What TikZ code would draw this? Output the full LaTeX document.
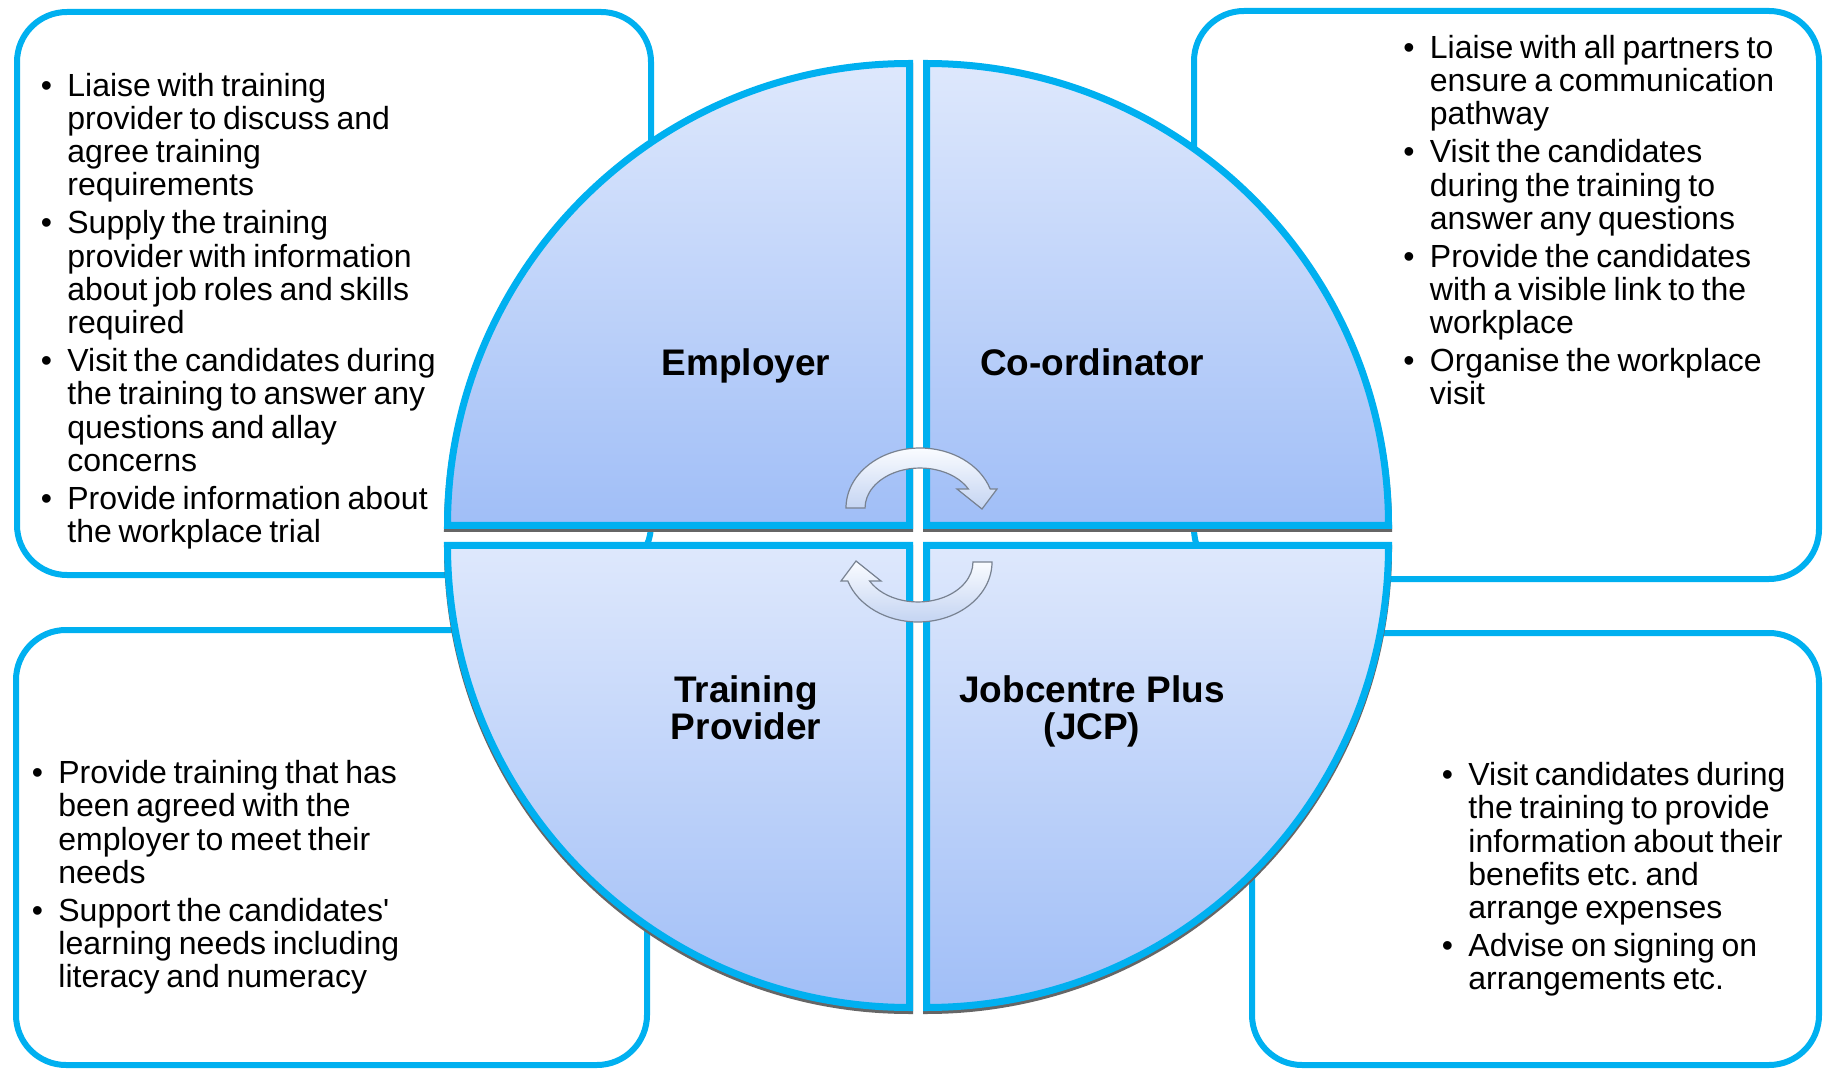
\documentclass[tikz,border=0pt]{standalone}
\usepackage{fontspec}
\setmainfont{Liberation Sans}
\definecolor{cyanb}{RGB}{0,176,240}
\definecolor{qtop}{RGB}{222,232,252}
\definecolor{qbot}{RGB}{160,190,247}
\definecolor{arrtop}{RGB}{250,252,255}
\definecolor{arrbot}{RGB}{196,212,242}
\definecolor{arredge}{RGB}{120,130,145}
\newcommand\bitem[1]{\noindent\llap{\makebox[13.25pt][l]{\textbullet}}\rule{0pt}{12.8pt}#1\par}
\newcommand\bsep{\vspace{2.25pt}}
\newcommand\liststart{\frenchspacing\leftskip=13.25pt\spaceskip=0.21em plus 0.05em\relax}
\begin{document}
\begin{tikzpicture}[x=0.5pt,y=0.5pt,
  infobox/.style={draw=cyanb, line width=3pt, rounded corners=25pt, fill=white},
  quad/.style={draw=cyanb, line width=3.5pt, top color=qtop, bottom color=qbot},
  qshadow/.style={fill=black!60, draw=black!60, line width=3.5pt},
  listtext/.style={anchor=north west, inner sep=0pt, text width=330pt, align=left,
    font=\fontsize{16pt}{16.65pt}\selectfont},
  rolelabel/.style={inner sep=0pt, align=center,
    font=\fontsize{18.5pt}{18.5pt}\selectfont\bfseries},
  cycarrow/.style={draw=arredge, line width=0.6pt, top color=arrtop, bottom color=arrbot}]

\useasboundingbox (0,0) rectangle (1824,1072);
\fill[white] (0,0) rectangle (1824,1072);

% information boxes
\draw[infobox] (17,497) rectangle (651,1060);
\draw[infobox] (1194,493) rectangle (1819,1061);
\draw[infobox] (16,7) rectangle (647,442);
\draw[infobox] (1252,7) rectangle (1819,439);

% quadrant shadows
\begin{scope}[yshift=-1.5pt]
\draw[qshadow] (909.5,546.5) -- (909.5,1008.5) arc[start angle=90, end angle=180, radius=231pt] -- cycle;
\draw[qshadow] (926.5,546.5) -- (926.5,1008.5) arc[start angle=90, end angle=0, radius=231pt] -- cycle;
\draw[qshadow] (909.5,526.5) -- (909.5,64.5) arc[start angle=270, end angle=180, radius=231pt] -- cycle;
\draw[qshadow] (926.5,526.5) -- (926.5,64.5) arc[start angle=270, end angle=360, radius=231pt] -- cycle;
\end{scope}

% quadrants
\draw[quad] (909.5,546.5) -- (909.5,1008.5) arc[start angle=90, end angle=180, radius=231pt] -- cycle;
\draw[quad] (926.5,546.5) -- (926.5,1008.5) arc[start angle=90, end angle=0, radius=231pt] -- cycle;
\draw[quad] (909.5,526.5) -- (909.5,64.5) arc[start angle=270, end angle=180, radius=231pt] -- cycle;
\draw[quad] (926.5,526.5) -- (926.5,64.5) arc[start angle=270, end angle=360, radius=231pt] -- cycle;

% role labels
\node[rolelabel, anchor=base] (emp) at (746,696) {Employer};
\node[rolelabel, anchor=base] (coord) at (1092,696) {Co-ordinator};
\node[rolelabel, anchor=north] (tp) at (746,399.6) {\rule{0pt}{14.8pt}Training\\Provider};
\node[rolelabel, anchor=north] (jcp) at (1092,399.6) {\rule{0pt}{14.8pt}Jobcentre Plus\\(JCP)};

% cycle arrows
\begin{scope}[shift={(920,564)}]
\draw[cycarrow] (-74,0) arc[start angle=180, end angle=18.5, x radius=37pt, y radius=30pt]
  -- (77,19) -- (62,-1) -- (37,19) -- (48.4,19)
  arc[start angle=28.4, end angle=180, x radius=27.5pt, y radius=20pt] -- cycle;
\end{scope}
\begin{scope}[shift={(918,510)}, rotate=180]
\draw[cycarrow] (-74,0) arc[start angle=180, end angle=18.5, x radius=37pt, y radius=30pt]
  -- (77,19) -- (62,-1) -- (37,19) -- (48.4,19)
  arc[start angle=28.4, end angle=180, x radius=27.5pt, y radius=20pt] -- cycle;
\end{scope}

% list texts
\node[listtext] (empList) at (40.5,1001.9) {\liststart
\bitem{Liaise with training\\provider to discuss and\\agree training\\requirements}\bsep
\bitem{Supply the training\\provider with information\\about job roles and skills\\required}\bsep
\bitem{Visit the candidates during\\the training to answer any\\questions and allay\\concerns}\bsep
\bitem{Provide information about\\the workplace trial}};

\node[listtext] (coordList) at (1403,1039.6) {\liststart
\bitem{Liaise with all partners to\\ensure a communication\\pathway}\bsep
\bitem{Visit the candidates\\during the training to\\answer any questions}\bsep
\bitem{Provide the candidates\\with a visible link to the\\workplace}\bsep
\bitem{Organise the workplace\\visit}};

\node[listtext] (tpList) at (31.5,314.6) {\liststart
\bitem{Provide training that has\\been agreed with the\\employer to meet their\\needs}\bsep
\bitem{Support the candidates\textquotesingle\\learning needs including\\literacy and numeracy}};

\node[listtext] (jcpList) at (1441.5,312.6) {\liststart
\bitem{Visit candidates during\\the training to provide\\information about their\\benefits etc. and\\arrange expenses}\bsep
\bitem{Advise on signing on\\arrangements etc.}};
\end{tikzpicture}
\end{document}
